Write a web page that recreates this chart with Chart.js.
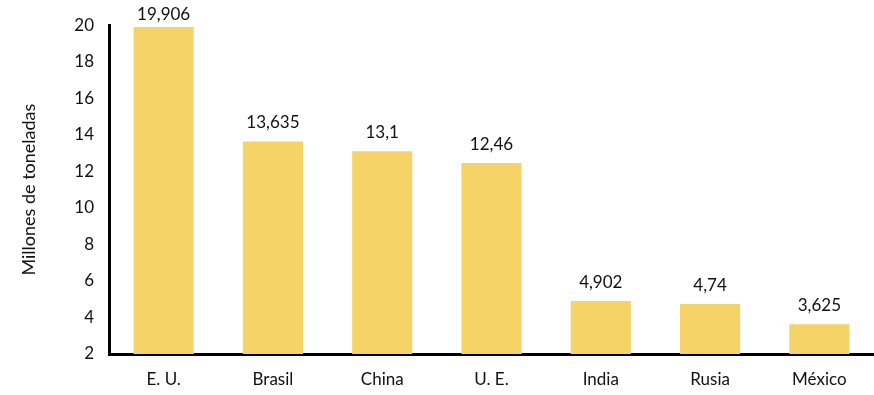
<!DOCTYPE html>
<html>
<head>
<meta charset="utf-8">
<script src="https://cdn.jsdelivr.net/npm/chart.js@4/dist/chart.umd.min.js"></script>
<style>
  html, body { margin: 0; padding: 0; background: #fff; }
  #wrap { width: 874px; height: 395px; }
</style>
</head>
<body>
<div id="wrap"><canvas id="chart"></canvas></div>
<script>
// datos del gráfico
const paises = ['E. U.', 'Brasil', 'China', 'U. E.', 'India', 'Rusia', 'México'];
const toneladas = [19.906, 13.635, 13.1, 12.46, 4.902, 4.74, 3.625];
const ejeY = { min: 2, max: 20, paso: 2 };

const fuente = 'Lato, "Open Sans", sans-serif';

// etiquetas encima de cada barra, con coma decimal
const etiquetas = {
    id: 'etiquetas',
    afterDatasetsDraw(chart) {
        const ctx = chart.ctx;
        const meta = chart.getDatasetMeta(0);
        ctx.save();
        ctx.font = '17px ' + fuente;
        ctx.fillStyle = '#111';
        ctx.textAlign = 'center';
        ctx.textBaseline = 'alphabetic';
        meta.data.forEach((bar, i) => {
            const txt = String(toneladas[i]).replace('.', ',');
            ctx.fillText(txt, bar.x, Math.max(bar.y - 13, 20));
        });
        ctx.restore();
    }
};

new Chart(document.getElementById('chart'), {
    type: 'bar',
    data: {
        labels: paises,
        datasets: [{
            data: toneladas,
            backgroundColor: '#F5D366',
            barPercentage: 0.55,
            categoryPercentage: 1
        }]
    },
    options: {
        responsive: true,
        maintainAspectRatio: false,
        animation: false,
        layout: { padding: { top: 16, right: 0, left: 0, bottom: 0 } },
        plugins: {
            legend: { display: false },
            tooltip: { enabled: false }
        },
        scales: {
            x: {
                grid: { display: false, drawTicks: false },
                border: { display: true, color: '#000', width: 3 },
                ticks: { color: '#111', font: { family: fuente, size: 17 }, padding: 15 },
                afterFit(scale) { scale.height = 41; }
            },
            y: {
                min: ejeY.min,
                max: ejeY.max,
                grid: { display: false, drawTicks: false },
                border: { display: true, color: '#000', width: 3 },
                ticks: { stepSize: ejeY.paso, color: '#111', font: { family: fuente, size: 17 }, padding: 15 },
                title: {
                    display: true,
                    text: 'Millones de toneladas',
                    color: '#111',
                    font: { family: fuente, size: 18 },
                    padding: { top: 18, bottom: 0 }
                },
                afterFit(scale) { scale.width = 109; }
            }
        }
    },
    plugins: [etiquetas]
});
</script>
</body>
</html>
